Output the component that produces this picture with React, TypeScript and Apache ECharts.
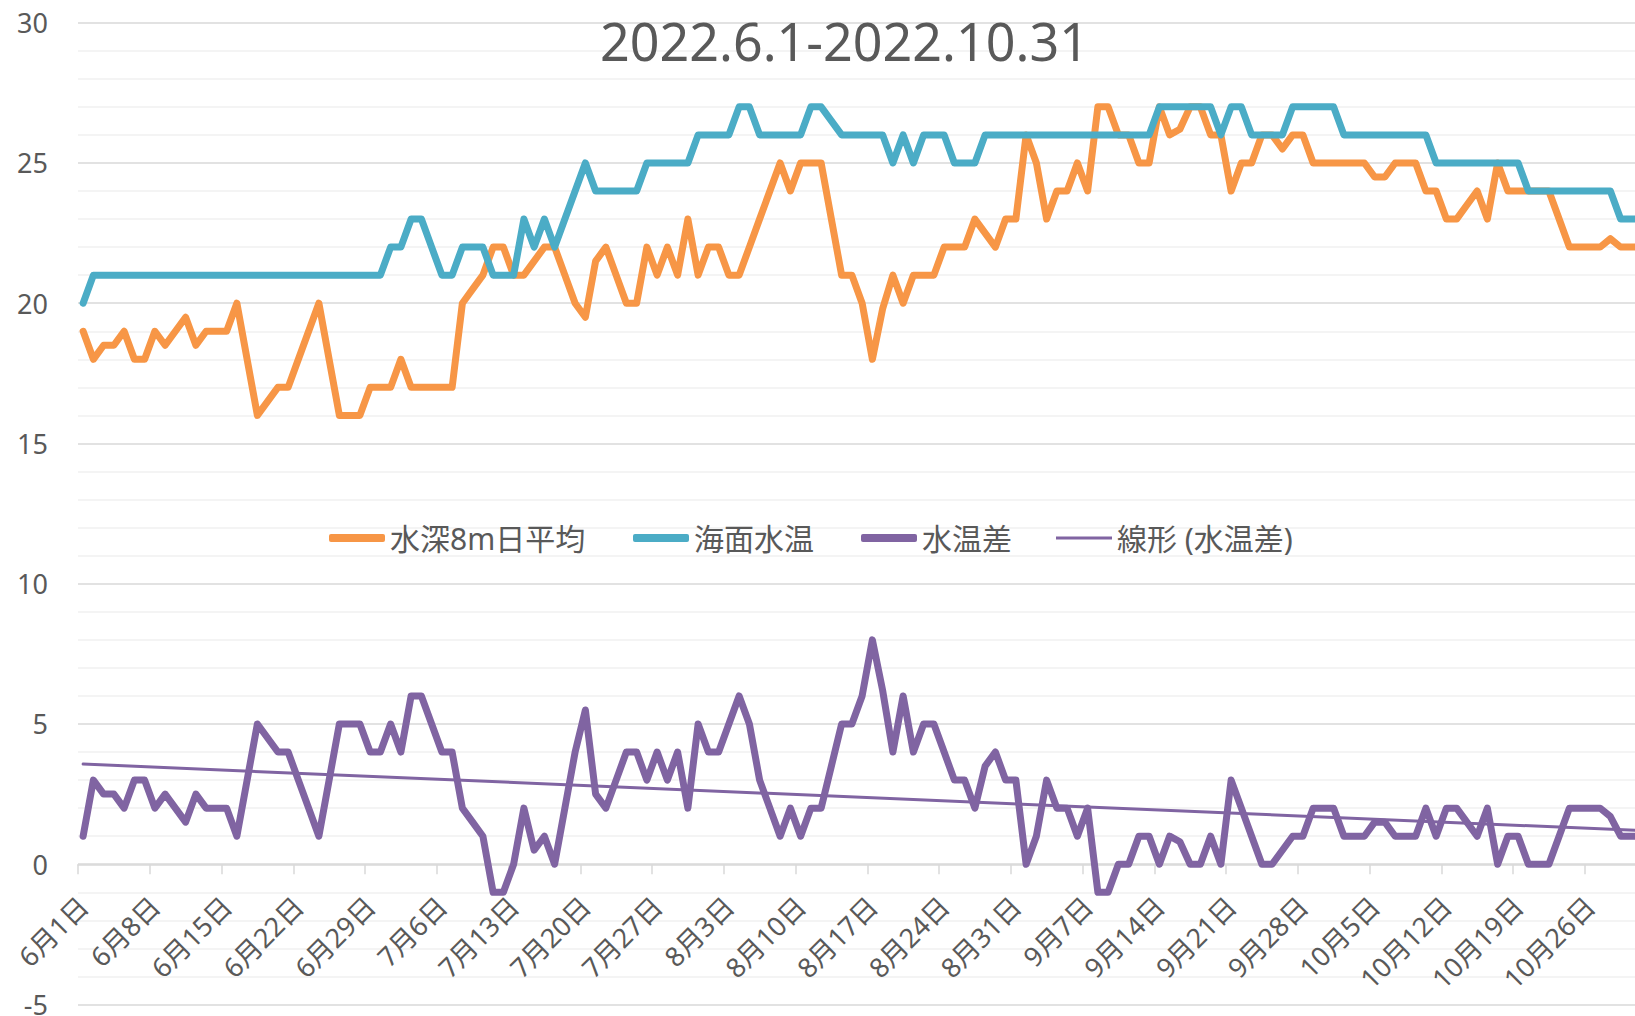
import React, { useEffect, useRef } from "react";
import * as echarts from "echarts";

const titleText = "2022.6.1-2022.10.31";
const months = [6, 7, 8, 9, 10];
const monthDays = [30, 31, 31, 30, 31];
const categories: string[] = [];
months.forEach((m, k) => {
  for (let d = 1; d <= monthDays[k]; d++) categories.push(`${m}月${d}日`);
});

const seriesNames = ["水深8m日平均", "海面水温", "水温差", "線形 (水温差)"];

// 水深8m日平均
const depth8m = [
  19, 18, 18.5, 18.5, 19, 18, 18, 19, 18.5, 19,
  19.5, 18.5, 19, 19, 19, 20, 18, 16, 16.5, 17,
  17, 18, 19, 20, 18, 16, 16, 16, 17, 17,
  17, 18, 17, 17, 17, 17, 17, 20, 20.5, 21,
  22, 22, 21, 21, 21.5, 22, 22, 21, 20, 19.5,
  21.5, 22, 21, 20, 20, 22, 21, 22, 21, 23,
  21, 22, 22, 21, 21, 22, 23, 24, 25, 24,
  25, 25, 25, 23, 21, 21, 20, 18, 19.8, 21,
  20, 21, 21, 21, 22, 22, 22, 23, 22.5, 22,
  23, 23, 26, 25, 23, 24, 24, 25, 24, 27,
  27, 26, 26, 25, 25, 27, 26, 26.2, 27, 27,
  26, 26, 24, 25, 25, 26, 26, 25.5, 26, 26,
  25, 25, 25, 25, 25, 25, 24.5, 24.5, 25, 25,
  25, 24, 24, 23, 23, 23.5, 24, 23, 25, 24,
  24, 24, 24, 24, 23, 22, 22, 22, 22, 22.3,
  22, 22, 22,
];

// 海面水温
const seaSurface = [
  20, 21, 21, 21, 21, 21, 21, 21, 21, 21,
  21, 21, 21, 21, 21, 21, 21, 21, 21, 21,
  21, 21, 21, 21, 21, 21, 21, 21, 21, 21,
  22, 22, 23, 23, 22, 21, 21, 22, 22, 22,
  21, 21, 21, 23, 22, 23, 22, 23, 24, 25,
  24, 24, 24, 24, 24, 25, 25, 25, 25, 25,
  26, 26, 26, 26, 27, 27, 26, 26, 26, 26,
  26, 27, 27, 26.5, 26, 26, 26, 26, 26, 25,
  26, 25, 26, 26, 26, 25, 25, 25, 26, 26,
  26, 26, 26, 26, 26, 26, 26, 26, 26, 26,
  26, 26, 26, 26, 26, 27, 27, 27, 27, 27,
  27, 26, 27, 27, 26, 26, 26, 26, 27, 27,
  27, 27, 27, 26, 26, 26, 26, 26, 26, 26,
  26, 26, 25, 25, 25, 25, 25, 25, 25, 25,
  25, 24, 24, 24, 24, 24, 24, 24, 24, 24,
  23, 23, 23,
];

// 水温差
const tempDiff = [
  1, 3, 2.5, 2.5, 2, 3, 3, 2, 2.5, 2,
  1.5, 2.5, 2, 2, 2, 1, 3, 5, 4.5, 4,
  4, 3, 2, 1, 3, 5, 5, 5, 4, 4,
  5, 4, 6, 6, 5, 4, 4, 2, 1.5, 1,
  -1, -1, 0, 2, 0.5, 1, 0, 2, 4, 5.5,
  2.5, 2, 3, 4, 4, 3, 4, 3, 4, 2,
  5, 4, 4, 5, 6, 5, 3, 2, 1, 2,
  1, 2, 2, 3.5, 5, 5, 6, 8, 6.2, 4,
  6, 4, 5, 5, 4, 3, 3, 2, 3.5, 4,
  3, 3, 0, 1, 3, 2, 2, 1, 2, -1,
  -1, 0, 0, 1, 1, 0, 1, 0.8, 0, 0,
  1, 0, 3, 2, 1, 0, 0, 0.5, 1, 1,
  2, 2, 2, 1, 1, 1, 1.5, 1.5, 1, 1,
  1, 2, 1, 2, 2, 1.5, 1, 2, 0, 1,
  1, 0, 0, 0, 1, 2, 2, 2, 2, 1.7,
  1, 1, 1,
];

// 線形 (水温差) end points
const trendStart = 3.57;
const trendEnd = 1.2;

const ORANGE = "#F79646";
const BLUE = "#4BACC6";
const PURPLE = "#8064A2";
const TEXT = "#595959";
const FONT = '"Noto Sans", "Noto Sans CJK JP", sans-serif';

// left edge of each legend item (icon start)
const legendLefts = [329, 633, 861, 1056];
const legendIcons = ["roundRect", "roundRect", "roundRect", "path://M0,0L56,0L56,3L0,3Z"];

export default function App() {
  const ref = useRef<HTMLDivElement>(null);
  useEffect(() => {
    document.body.style.margin = "0";
    const chart = echarts.init(ref.current!, null, { renderer: "svg" });
    const lineSeries = (name: string, data: any[], color: string, width: number) => ({
      name,
      type: "line",
      data,
      symbol: "none",
      lineStyle: { color, width, cap: "round", join: "round" },
      itemStyle: { color },
    });
    const legends = seriesNames.map((name, i) => ({
      left: legendLefts[i],
      top: 523,
      padding: 0,
      itemWidth: 56,
      itemHeight: 8,
      itemStyle: { borderWidth: 0 },
      textStyle: { fontSize: 30, color: TEXT, fontFamily: FONT },
      data: [{ name, icon: legendIcons[i] }],
    }));
    chart.setOption({
      animation: false,
      backgroundColor: "#ffffff",
      textStyle: { fontFamily: FONT },
      grid: {
        left: 78,
        right: 13.75,
        top: 22.7,
        bottom: 11.5,
        containLabel: false,
        outerBoundsMode: "none",
      },
      title: {
        text: titleText,
        left: 600,
        top: 14,
        padding: 0,
        textStyle: { fontSize: 52, fontWeight: "normal", color: TEXT, fontFamily: FONT },
      },
      legend: legends,
      xAxis: {
        type: "category",
        data: categories,
        boundaryGap: true,
        position: "bottom",
        offset: -140.2,
        axisLine: { onZero: false, lineStyle: { color: "#d9d9d9", width: 1.5 } },
        axisTick: { show: true, interval: 6, length: 10, lineStyle: { color: "#d9d9d9", width: 1.5 } },
        axisLabel: {
          interval: 6,
          rotate: 45,
          margin: 37,
          fontSize: 27,
          color: TEXT,
          fontFamily: FONT,
        },
        splitLine: { show: false },
      },
      yAxis: {
        type: "value",
        min: -5,
        max: 30,
        interval: 5,
        axisLine: { show: false },
        axisTick: { show: false },
        axisLabel: { fontSize: 27, color: TEXT, margin: 30, fontFamily: FONT },
        splitLine: { show: true, lineStyle: { color: "#d9d9d9", width: 1.5 } },
        minorTick: { show: false, splitNumber: 5 },
        minorSplitLine: { show: true, lineStyle: { color: "#f0f0f0", width: 1.5 } },
      },
      series: [
        lineSeries(seriesNames[0], depth8m, ORANGE, 7),
        lineSeries(seriesNames[1], seaSurface, BLUE, 7),
        lineSeries(seriesNames[2], tempDiff, PURPLE, 7),
        lineSeries(seriesNames[3], [[0, trendStart], [categories.length - 1, trendEnd]], PURPLE, 3),
      ],
    });
    return () => chart.dispose();
  }, []);
  return (
    <div
      style={{
        position: "fixed",
        left: 0,
        top: 0,
        width: 1635,
        height: 1016,
        overflow: "hidden",
        background: "#fff",
      }}
    >
      <div ref={ref} style={{ width: 1660, height: 1016 }} />
    </div>
  );
}
